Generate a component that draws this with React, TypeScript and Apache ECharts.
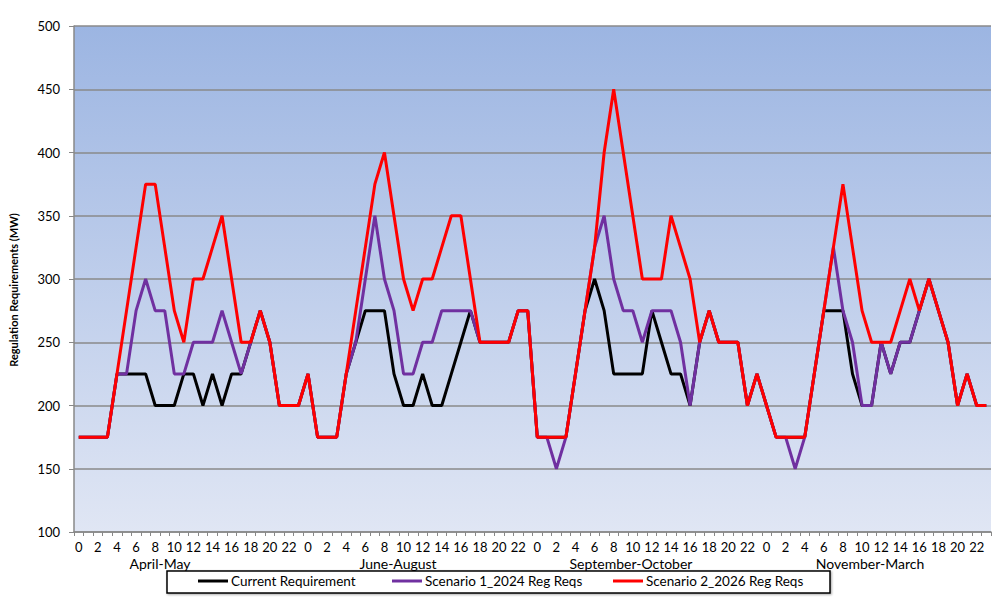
import React, { useEffect, useRef } from "react";
import * as echarts from "echarts";

const seasons = ["April-May", "June-August", "September-October", "November-March"];
const hours = Array.from({ length: 24 }, (_, h) => String(h));

const seriesNames = ["Current Requirement", "Scenario 1_2024 Reg Reqs", "Scenario 2_2026 Reg Reqs"];

const currentReq = [
  175, 175, 175, 175, 225, 225, 225, 225, 200, 200, 200, 225, 225, 200, 225, 200, 225, 225, 250, 275, 250, 200, 200, 200,
  225, 175, 175, 175, 225, 250, 275, 275, 275, 225, 200, 200, 225, 200, 200, 225, 250, 275, 250, 250, 250, 250, 275, 275,
  175, 175, 175, 175, 225, 275, 300, 275, 225, 225, 225, 225, 275, 250, 225, 225, 200, 250, 275, 250, 250, 250, 200, 225,
  200, 175, 175, 175, 175, 225, 275, 275, 275, 225, 200, 200, 250, 225, 250, 250, 275, 300, 275, 250, 200, 225, 200, 200,
];
const scenario1 = [
  175, 175, 175, 175, 225, 225, 275, 300, 275, 275, 225, 225, 250, 250, 250, 275, 250, 225, 250, 275, 250, 200, 200, 200,
  225, 175, 175, 175, 225, 250, 300, 350, 300, 275, 225, 225, 250, 250, 275, 275, 275, 275, 250, 250, 250, 250, 275, 275,
  175, 175, 150, 175, 225, 275, 325, 350, 300, 275, 275, 250, 275, 275, 275, 250, 200, 250, 275, 250, 250, 250, 200, 225,
  200, 175, 175, 150, 175, 225, 275, 325, 275, 250, 200, 200, 250, 225, 250, 250, 275, 300, 275, 250, 200, 225, 200, 200,
];
const scenario2 = [
  175, 175, 175, 175, 225, 275, 325, 375, 375, 325, 275, 250, 300, 300, 325, 350, 300, 250, 250, 275, 250, 200, 200, 200,
  225, 175, 175, 175, 225, 275, 325, 375, 400, 350, 300, 275, 300, 300, 325, 350, 350, 300, 250, 250, 250, 250, 275, 275,
  175, 175, 175, 175, 225, 275, 325, 400, 450, 400, 350, 300, 300, 300, 350, 325, 300, 250, 275, 250, 250, 250, 200, 225,
  200, 175, 175, 175, 175, 225, 275, 325, 375, 325, 275, 250, 250, 250, 275, 300, 275, 300, 275, 250, 200, 225, 200, 200,
];

const colors = ["#000000", "#7030a0", "#ff0000"];

const categories: string[] = [];
seasons.forEach((s) => hours.forEach((h) => categories.push(s + "|" + h)));

const FONT = "Lato, 'Liberation Sans', sans-serif";

export default function App() {
  const ref = useRef<HTMLDivElement>(null);
  useEffect(() => {
    if (!ref.current) return;
    const chart = echarts.init(ref.current, null, { renderer: "svg" });
    const seasonX = [160, 398, 631, 870];
    const legendLeft = [198, 392, 613];
    chart.setOption({
      animation: false,
      backgroundColor: "#ffffff",
      textStyle: { fontFamily: FONT },
      grid: {
        left: 73,
        right: 9,
        top: 26,
        bottom: 69,
        show: true,
        borderWidth: 0,
        backgroundColor: new echarts.graphic.LinearGradient(0, 0, 0, 1, [
          { offset: 0, color: "#9cb5e2" },
          { offset: 1, color: "#e0e6f4" },
        ]),
      },
      xAxis: {
        type: "category",
        data: categories,
        boundaryGap: true,
        axisLine: { lineStyle: { color: "#888888", width: 1.5 } },
        axisTick: { show: true, interval: 0, length: 4, lineStyle: { color: "#888888" } },
        axisLabel: {
          interval: 1,
          margin: 8,
          color: "#000",
          fontSize: 13,
          fontFamily: FONT,
          formatter: (v: string) => v.split("|")[1],
        },
        splitLine: { show: false },
      },
      yAxis: {
        type: "value",
        min: 100,
        max: 500,
        interval: 50,
        name: "Regulation Requirements (MW)",
        nameLocation: "middle",
        nameRotate: 90,
        nameGap: 55,
        nameTextStyle: { fontSize: 11, fontWeight: "bold", color: "#000", fontFamily: FONT, padding: [0, 22, 0, 0] },
        axisLine: { show: true, lineStyle: { color: "#888888", width: 1.5 } },
        axisTick: { show: true, length: 5, lineStyle: { color: "#888888" } },
        axisLabel: { color: "#000", fontSize: 13, margin: 14, fontFamily: FONT },
        splitLine: { show: true, lineStyle: { color: "#8a8a8a", width: 1.5 } },
      },
      legend: seriesNames.map((n, i) => ({
        data: [n],
        left: legendLeft[i],
        top: 574,
        padding: 0,
        icon: "rect",
        itemWidth: 30,
        itemHeight: 3,
        z: 20,
        textStyle: { fontSize: 13.5, color: "#000", fontFamily: FONT, padding: [0, 0, 0, -2] },
      })),
      graphic: [
        {
          type: "rect",
          z: 1,
          shape: { x: 167, y: 571, width: 663, height: 22 },
          style: { fill: "#ffffff", stroke: "#000000", lineWidth: 1.5, shadowBlur: 2, shadowOffsetX: 1, shadowOffsetY: 1, shadowColor: "rgba(0,0,0,0.35)" },
        },
        ...seasons.map((s, i) => ({
          type: "text",
          z: 5,
          x: seasonX[i],
          y: 563,
          style: {
            text: s,
            fill: "#000",
            font: "14px " + FONT,
            textAlign: "center",
            textVerticalAlign: "middle",
          },
        })),
      ],
      series: [currentReq, scenario1, scenario2].map((d, i) => ({
        name: seriesNames[i],
        type: "line",
        data: d,
        symbol: "none",
        color: colors[i],
        lineStyle: { color: colors[i], width: 3 },
        z: 2 + i,
      })),
    });
    return () => chart.dispose();
  }, []);
  return (
    <div
      ref={ref}
      style={{ position: "fixed", left: 0, top: 0, width: 1000, height: 601 }}
    />
  );
}
